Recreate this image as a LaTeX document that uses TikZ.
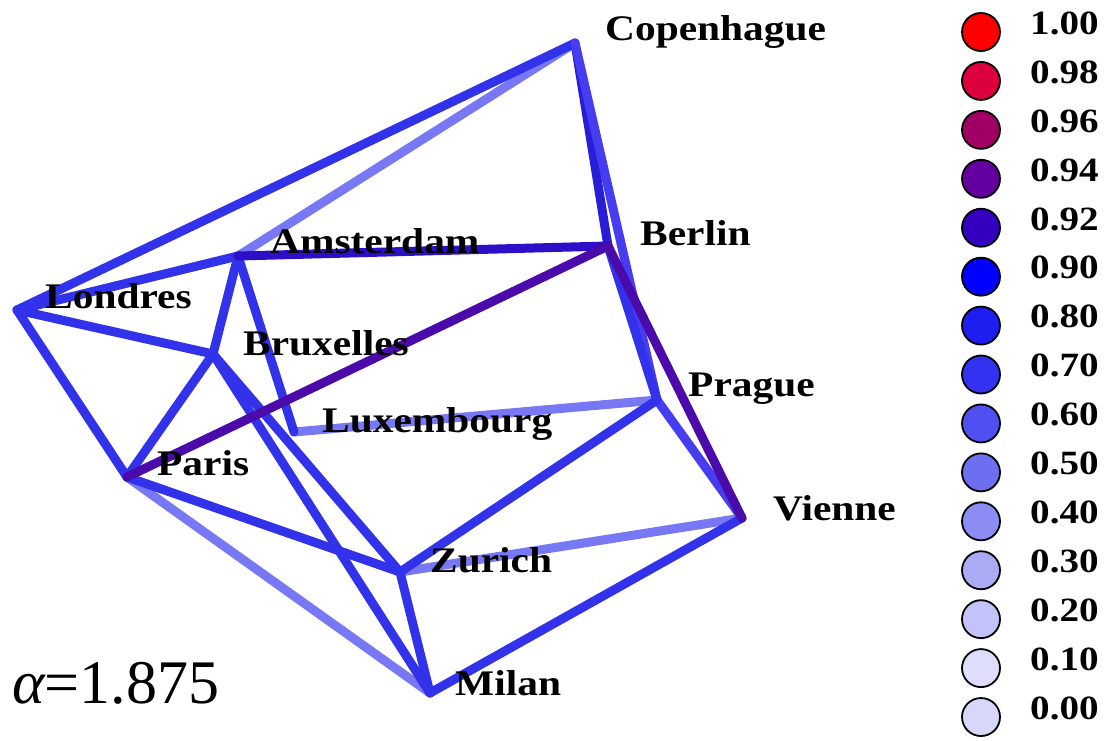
\documentclass[tikz,border=0pt]{standalone}
\usepackage{fontspec}
\setmainfont{Liberation Serif}
\newfontfamily\labfont[FakeStretch=1.15]{Liberation Serif}
\begin{document}
\begin{tikzpicture}[x=1pt,y=-1pt,
  edge/.style={line width=9pt, line cap=round, line join=round},
  cityname/.style={anchor=base west, inner sep=0pt, font=\labfont\bfseries\fontsize{36}{36}\selectfont},
  legdot/.style={circle, draw=black, line width=1.8pt, minimum size=38pt, inner sep=0pt},
  legtext/.style={anchor=mid west, inner sep=0pt, font=\labfont\bfseries\fontsize{34}{34}\selectfont}]
\definecolor{eb}{RGB}{50,50,235}
\definecolor{el}{RGB}{120,120,245}
\definecolor{ed}{RGB}{45,15,200}
\definecolor{ep}{RGB}{75,10,170}
\definecolor{em}{RGB}{40,30,215}
\definecolor{ek}{RGB}{70,60,240}
\definecolor{lg1}{RGB}{255,0,0}
\definecolor{lg2}{RGB}{220,0,60}
\definecolor{lg3}{RGB}{160,0,100}
\definecolor{lg4}{RGB}{100,0,160}
\definecolor{lg5}{RGB}{50,0,190}
\definecolor{lg6}{RGB}{0,0,255}
\definecolor{lg7}{RGB}{30,30,240}
\definecolor{lg8}{RGB}{50,50,240}
\definecolor{lg9}{RGB}{80,80,240}
\definecolor{lg10}{RGB}{110,110,240}
\definecolor{lg11}{RGB}{140,140,245}
\definecolor{lg12}{RGB}{170,170,245}
\definecolor{lg13}{RGB}{195,195,250}
\definecolor{lg14}{RGB}{222,222,252}
\definecolor{lg15}{RGB}{215,215,250}
\fill[white] (0,0) rectangle (1109,740);
\useasboundingbox (0,0) rectangle (1109,740);
% city points
\coordinate (cop) at (575,43);
\coordinate (ber) at (608,246);
\coordinate (ams) at (238,256);
\coordinate (lon) at (17,310);
\coordinate (bru) at (213,354);
\coordinate (lux) at (294,432);
\coordinate (pra) at (657,400);
\coordinate (par) at (127,477);
\coordinate (vie) at (742,518);
\coordinate (zur) at (400,572);
\coordinate (mil) at (430,693);
% edges
\draw[edge, el] (ams) -- (cop);
\draw[edge, el] (par) -- (mil);
\draw[edge, el] (lux) -- (pra);
\draw[edge, el] (zur) -- (vie);
\draw[edge, eb] (lon) -- (cop);
\draw[edge, em] (cop) -- (ber);
\draw[edge, ek] (cop) -- (pra);
\draw[edge, eb] (lon) -- (ams);
\draw[edge, eb] (ams) -- (bru);
\draw[edge, eb] (ams) -- (lux);
\draw[edge, eb] (lon) -- (bru);
\draw[edge, eb] (lon) -- (par);
\draw[edge, eb] (bru) -- (par);
\draw[edge, eb] (bru) -- (zur);
\draw[edge, eb] (bru) -- (mil);
\draw[edge, eb] (ber) -- (pra);
\draw[edge, ek] (pra) -- (vie);
\draw[edge, eb] (pra) -- (zur);
\draw[edge, eb] (vie) -- (mil);
\draw[edge, eb] (zur) -- (mil);
\draw[edge, eb] (par) -- (zur);
\draw[edge, ed] (ams) -- (ber);
\draw[edge, ep] (par) -- (ber);
\draw[edge, ep] (ber) -- (vie);
% labels
\node[cityname] (lcop) at (605,40) {Copenhague};
\node[cityname] (lber) at (640,245) {Berlin};
\node[cityname] (lams) at (270,253) {Amsterdam};
\node[cityname] (llon) at (45,308) {Londres};
\node[cityname] (lbru) at (243,355) {Bruxelles};
\node[cityname] (llux) at (322,432) {Luxembourg};
\node[cityname] (lpra) at (688,396) {Prague};
\node[cityname] (lpar) at (157,475) {Paris};
\node[cityname] (lvie) at (773,520) {Vienne};
\node[cityname] (lzur) at (430,572) {Zurich};
\node[cityname] (lmil) at (455,695) {Milan};
\node[anchor=base west, inner sep=0pt, font=\fontsize{62}{62}\selectfont] (alpha) at (12,703) {{\itshape α}=1.875};
% legend
\foreach \i/\v in {1/1.00,2/0.98,3/0.96,4/0.94,5/0.92,6/0.90,7/0.80,8/0.70,9/0.60,10/0.50,11/0.40,12/0.30,13/0.20,14/0.10,15/0.00}{
  \node[legdot, fill=lg\i] (ld\i) at (981,{32+(\i-1)*48.93}) {};
  \node[legtext] (lt\i) at (1030,{32+(\i-1)*48.93}) {\v};
}
\end{tikzpicture}
\end{document}
